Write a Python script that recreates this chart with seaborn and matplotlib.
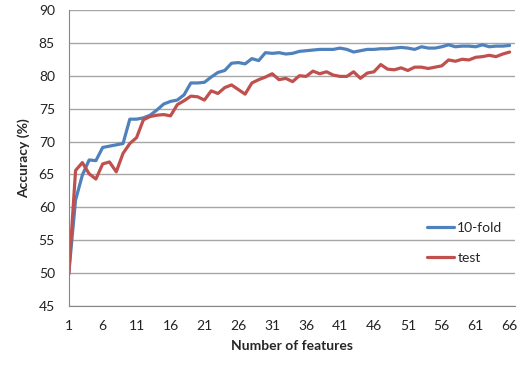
import matplotlib
matplotlib.use("Agg")
import matplotlib.pyplot as plt
import numpy as np
import pandas as pd
import seaborn as sns

features = list(range(1, 67))

tenfold = [50.0, 61.1, 64.9, 67.2, 67.1, 69.1, 69.3, 69.5, 69.7, 73.4,
           73.4, 73.6, 74.0, 74.8, 75.7, 76.1, 76.3, 77.1, 78.9, 78.9,
           79.0, 79.8, 80.5, 80.8, 81.9, 82.0, 81.8, 82.6, 82.3, 83.5,
           83.4, 83.5, 83.3, 83.4, 83.7, 83.8, 83.9, 84.0, 84.0, 84.0,
           84.2, 84.0, 83.6, 83.8, 84.0, 84.0, 84.1, 84.1, 84.2, 84.3,
           84.2, 84.0, 84.4, 84.2, 84.2, 84.4, 84.7, 84.4, 84.5, 84.5,
           84.4, 84.7, 84.4, 84.5, 84.5, 84.6]

test = [49.8, 65.6, 66.8, 65.1, 64.3, 66.6, 66.9, 65.4, 68.2, 69.7,
        70.6, 73.3, 73.8, 74.0, 74.1, 73.9, 75.6, 76.2, 76.9, 76.8,
        76.3, 77.7, 77.3, 78.2, 78.6, 77.9, 77.2, 78.9, 79.4, 79.8,
        80.3, 79.4, 79.6, 79.1, 80.0, 79.9, 80.7, 80.3, 80.6, 80.1,
        79.9, 79.9, 80.6, 79.6, 80.4, 80.6, 81.7, 81.0, 80.9, 81.2,
        80.8, 81.3, 81.3, 81.1, 81.3, 81.5, 82.4, 82.2, 82.5, 82.4,
        82.8, 82.9, 83.1, 82.9, 83.3, 83.6]

xticks = list(range(1, 67, 5))
yticks = list(range(45, 91, 5))

df = pd.DataFrame({
    "features": features * 2,
    "accuracy": tenfold + test,
    "series": ["10-fold"] * len(features) + ["test"] * len(features),
})

sns.set_style("white")
plt.rcParams["font.family"] = ["Lato", "DejaVu Sans"]

fig = plt.figure(figsize=(5.25, 3.67), dpi=100)
ax = fig.add_axes([0.131, 0.166, 0.85, 0.807])

sns.lineplot(data=df, x="features", y="accuracy", hue="series",
             palette={"10-fold": "#4F81BD", "test": "#C0504D"},
             linewidth=2.3, ax=ax)

ax.set_xlim(1, 66.8)
ax.set_ylim(45, 90)
ax.set_xticks(xticks)
ax.set_yticks(yticks)
ax.yaxis.grid(True, color="#A6A6A6", linewidth=1)
ax.set_axisbelow(True)

for s in ["top", "right"]:
    ax.spines[s].set_visible(False)
for s in ["left", "bottom"]:
    ax.spines[s].set_color("#868686")
ax.tick_params(axis="both", direction="out", length=4, color="#868686",
               labelsize=10, labelcolor="#222222", pad=6)

ax.set_xlabel("Number of features", fontsize=10, fontweight="bold", labelpad=6)
ax.set_ylabel("Accuracy (%)", fontsize=10, fontweight="bold", labelpad=6)

leg = ax.legend(loc="lower right", bbox_to_anchor=(1.0, 0.1), frameon=False,
                fontsize=10, handlelength=2.0, handletextpad=0.2,
                labelspacing=1.3, title=None)

fig.savefig("out.png", dpi=100)
